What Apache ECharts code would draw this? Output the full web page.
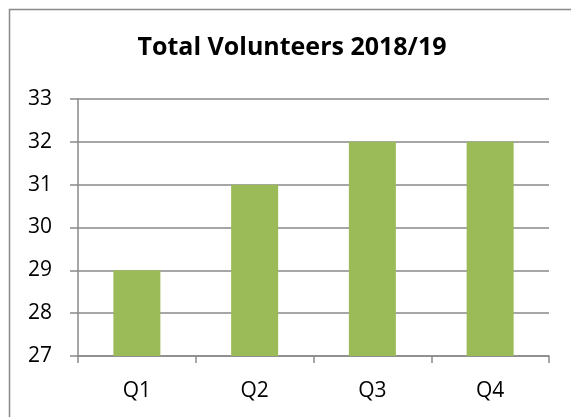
<!DOCTYPE html>
<html>
<head>
<meta charset="utf-8">
<script src="https://cdn.jsdelivr.net/npm/echarts@6/dist/echarts.min.js"></script>
<style>
  html, body { margin: 0; padding: 0; background: #fff; }
  #chart { width: 571px; height: 417px; }
</style>
</head>
<body>
<div id="chart"></div>
<script>
// Quarterly volunteer totals
const titleText = 'Total Volunteers 2018/19';
const quarters = ['Q1', 'Q2', 'Q3', 'Q4'];
const volunteers = [29, 31, 32, 32];
const yMin = 27;
const yMax = 33;
const yStep = 1;

const fontFamily = '"Open Sans", "Noto Sans", "Liberation Sans", sans-serif';
const lineGrey = '#898989';

const chart = echarts.init(document.getElementById('chart'), null, { renderer: 'canvas' });
chart.setOption({
  animation: false,
  backgroundColor: '#ffffff',
  graphic: [
    {
      // chart-area frame (right and bottom edges run past the page)
      type: 'rect',
      shape: { x: 9.5, y: 9.5, width: 700, height: 500 },
      style: { fill: 'none', stroke: lineGrey, lineWidth: 1.5 },
      silent: true
    },
    {
      type: 'text',
      x: 292,
      y: 48,
      style: {
        text: titleText,
        fontFamily,
        fontSize: 25,
        fontWeight: 'bold',
        fill: '#000',
        textAlign: 'center',
        textVerticalAlign: 'middle'
      },
      silent: true
    }
  ],
  grid: { left: 78, right: 22, top: 99, bottom: 61, containLabel: false },
  xAxis: {
    type: 'category',
    data: quarters,
    axisLine: { show: true, lineStyle: { color: lineGrey, width: 1.5 } },
    axisTick: { show: true, length: 7, lineStyle: { color: lineGrey, width: 1.5 } },
    axisLabel: { fontFamily, fontSize: 21, color: '#000', margin: 25 },
    splitLine: { show: false }
  },
  yAxis: {
    type: 'value',
    min: yMin,
    max: yMax,
    interval: yStep,
    axisLine: { show: true, lineStyle: { color: lineGrey, width: 1.5 } },
    axisTick: { show: true, length: 8, lineStyle: { color: lineGrey, width: 1.5 } },
    axisLabel: { fontFamily, fontSize: 21, color: '#000', margin: 26 },
    splitLine: { show: true, lineStyle: { color: lineGrey, width: 1.5 } }
  },
  series: [{
    type: 'bar',
    data: volunteers,
    barWidth: 47,
    itemStyle: { color: '#9BBB59' }
  }]
});
</script>
</body>
</html>
